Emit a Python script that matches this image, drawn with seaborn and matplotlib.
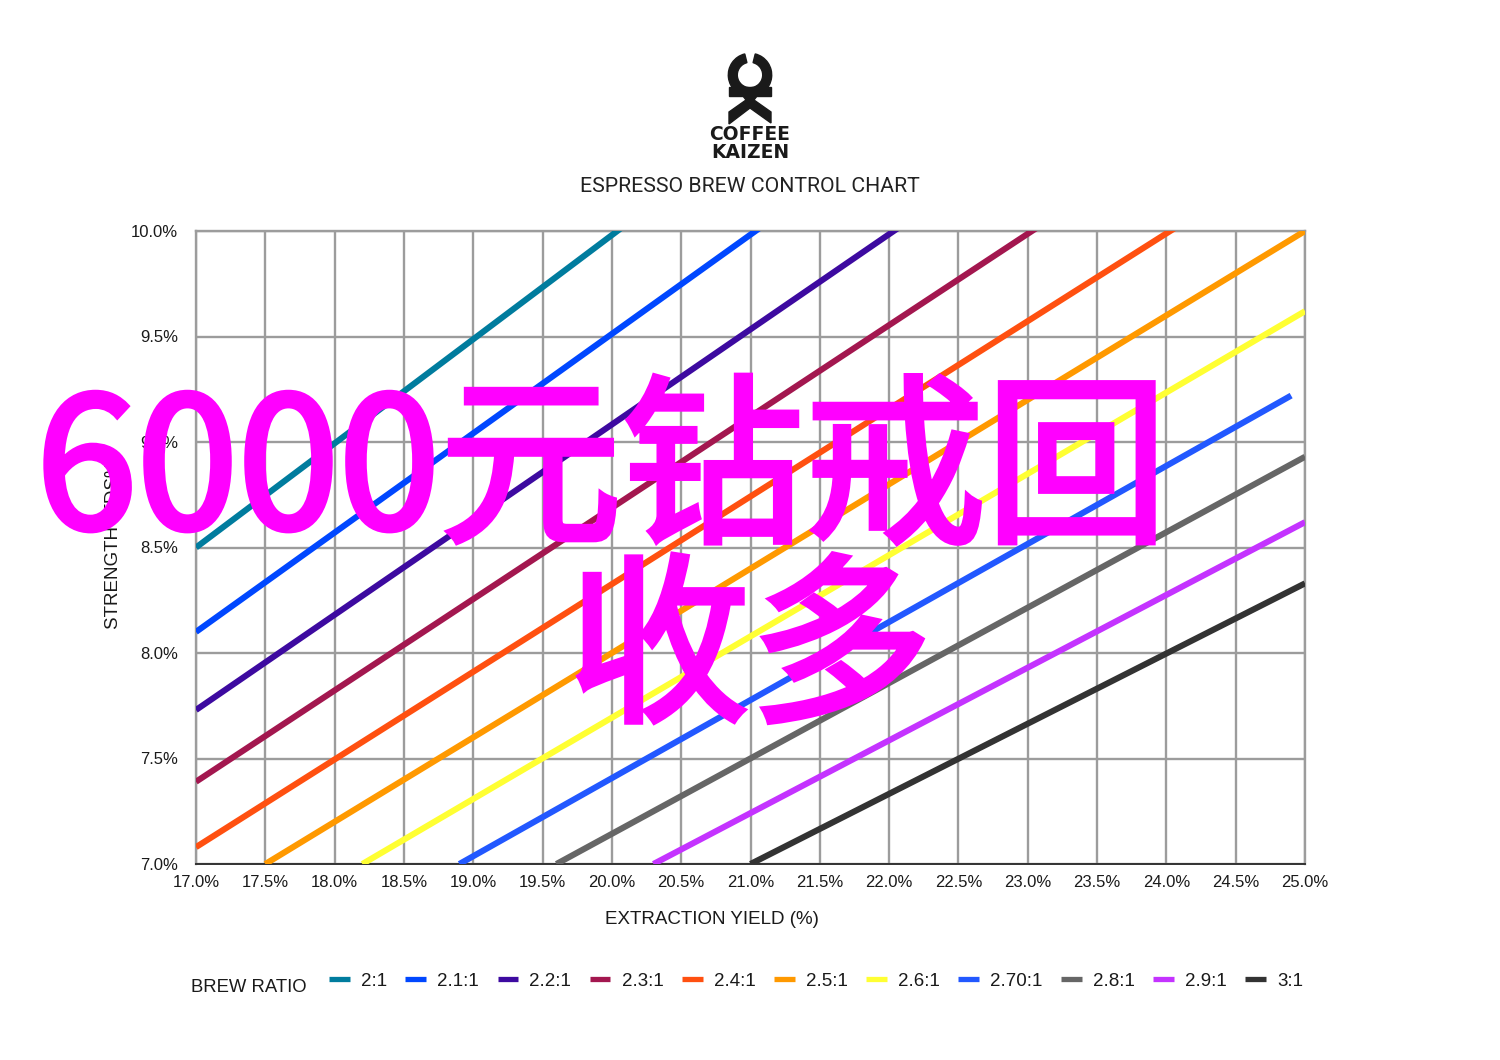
"""Espresso brew control chart with the Coffee Kaizen logo and the magenta overlay text."""

import seaborn as sns
import matplotlib.pyplot as plt
import matplotlib.patheffects as pe
from matplotlib.patches import Polygon, Rectangle, Wedge
import pandas as pd

# Data
RATIOS = ['2:1', '2.1:1', '2.2:1', '2.3:1', '2.4:1', '2.5:1',
          '2.6:1', '2.70:1', '2.8:1', '2.9:1', '3:1']
YIELD_START = [17.0, 17.0, 17.0, 17.0, 17.0, 17.5, 18.2, 18.9, 19.6, 20.3, 21.0]
YIELD_END = [20.1, 21.1, 22.1, 23.1, 24.1, 25.0, 25.0, 24.9, 25.0, 25.0, 25.0]
STRENGTH_START = [8.5, 8.1, 7.73, 7.39, 7.08, 7.0, 7.0, 7.0, 7.0, 7.0, 7.0]
STRENGTH_END = [10.03, 10.03, 10.03, 10.03, 10.03, 10.0, 9.62, 9.22, 8.93, 8.62, 8.33]
X_TICKS = [17.0, 17.5, 18.0, 18.5, 19.0, 19.5, 20.0, 20.5, 21.0, 21.5, 22.0,
           22.5, 23.0, 23.5, 24.0, 24.5, 25.0]
Y_TICKS = [7.0, 7.5, 8.0, 8.5, 9.0, 9.5, 10.0]

# Styling
COLORS = ['#007C9E', '#0047FF', '#3D0AA0', '#A3174F', '#FF5010', '#FF9900',
          '#FFFF33', '#2258FF', '#666666', '#C433FF', '#333333']
GRID = '#9C9C9C'
INK = '#1A1A1A'
WIDTH, HEIGHT = 1500, 1060

sns.set_style('white')
plt.rcParams['font.family'] = ['Liberation Sans', 'DejaVu Sans']
plt.rcParams['lines.solid_capstyle'] = 'butt'

df = pd.DataFrame({
    'ratio': RATIOS + RATIOS,
    'yield': YIELD_START + YIELD_END,
    'strength': STRENGTH_START + STRENGTH_END,
})

fig = plt.figure(figsize=(WIDTH / 100, HEIGHT / 100), dpi=100)
ax = fig.add_axes([196 / WIDTH, 1 - 864 / HEIGHT, (1305 - 196) / WIDTH, (864 - 231) / HEIGHT])

sns.lineplot(data=df, x='yield', y='strength', hue='ratio', hue_order=RATIOS,
             palette=COLORS, estimator=None, sort=False, linewidth=4.4, ax=ax, zorder=3)

ax.set_xlim(17, 25)
ax.set_ylim(7, 10)
ax.set_xticks(X_TICKS, [f'{v:.1f}%' for v in X_TICKS])
ax.set_yticks(Y_TICKS, [f'{v:.1f}%' for v in Y_TICKS])
ax.tick_params(axis='both', length=0, labelsize=12, labelcolor=INK)
ax.tick_params(axis='x', pad=8)
ax.tick_params(axis='y', pad=13)
ax.grid(True, color=GRID, linewidth=1.7)
ax.set_axisbelow(True)
for side in ax.spines:
    ax.spines[side].set_color(GRID)
    ax.spines[side].set_linewidth(1.7)
ax.spines['bottom'].set_color('#333333')
ax.spines['bottom'].set_linewidth(1.4)

ax.set_xlabel('')
ax.set_ylabel('')
fig.text(712 / WIDTH, 1 - 920 / HEIGHT, 'EXTRACTION YIELD (%)', ha='center', va='center',
         fontsize=13.5, color=INK)
fig.text(113 / WIDTH, 1 - 629 / HEIGHT, 'STRENGTH (TDS%)', rotation=90, ha='center', va='bottom',
         fontsize=13.5, color=INK)

# Legend row along the bottom, with its title set apart on the left
handles, labels = ax.get_legend_handles_labels()
ax.legend(handles, labels, ncol=11, loc='center left', frameon=False,
          bbox_to_anchor=(329 / WIDTH, 1 - 981 / HEIGHT), bbox_transform=fig.transFigure,
          borderpad=0, borderaxespad=0, fontsize=13.5, handlelength=1.1,
          handletextpad=0.6, columnspacing=0.985, labelcolor=INK)
for line in ax.get_legend().get_lines():
    line.set_linewidth(3.8)
fig.text(191 / WIDTH, 1 - 987 / HEIGHT, 'BREW RATIO', ha='left', va='center',
         fontsize=13.3, color=INK)

# Logo, drawn in pixel coordinates
logo = fig.add_axes([0, 0, 1, 1], zorder=-1)
logo.set_xlim(0, WIDTH)
logo.set_ylim(HEIGHT, 0)
logo.axis('off')
logo.add_patch(Wedge((750, 75), 21.7, -76, 256, width=9, color=INK))
logo.add_patch(Rectangle((729, 87), 42, 9, color=INK))
logo.add_patch(Polygon([(743, 96), (757, 96), (754, 100), (771, 112), (771, 123),
                        (750, 108), (729, 124), (729, 112), (746, 100)], color=INK))

fig.text(750 / WIDTH, 1 - 135 / HEIGHT, 'COFFEE', ha='center', va='center',
         fontsize=13.5, fontweight='bold', family='DejaVu Sans', color=INK)
fig.text(750 / WIDTH, 1 - 152 / HEIGHT, 'KAIZEN', ha='center', va='center',
         fontsize=13.5, fontweight='bold', family='DejaVu Sans', color=INK)
fig.text(750 / WIDTH, 1 - 187 / HEIGHT, 'ESPRESSO BREW CONTROL CHART', ha='center', va='center',
         fontsize=15.3, family='Roboto', color='#222222')

# Overlay text sits on top of everything, thickened with a stroke of its own colour
overlay = {'fontsize': 131, 'color': '#FF00FF', 'ha': 'center', 'va': 'center',
           'family': ['Noto Sans CJK SC', 'DejaVu Sans'], 'zorder': 10,
           'path_effects': [pe.withStroke(linewidth=4, foreground='#FF00FF', joinstyle='miter')]}
fig.text(602 / WIDTH, 1 - 477 / HEIGHT, '6000元钻戒回', **overlay)
fig.text(750 / WIDTH, 1 - 656 / HEIGHT, '收多', **overlay)

fig.savefig('out.png', dpi=100)
plt.close(fig)
